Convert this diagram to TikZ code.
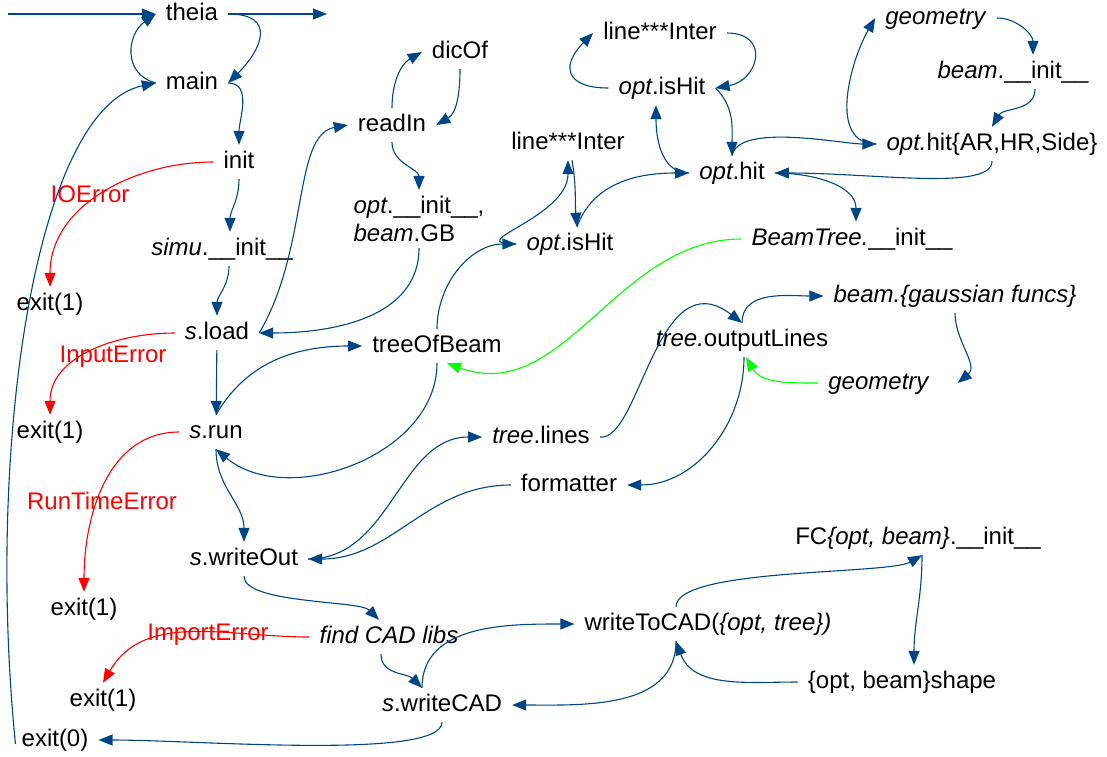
\documentclass[tikz,border=0pt]{standalone}
\usepackage{fontspec}
\setmainfont{Liberation Sans}
\usepackage{xcolor}
\usepackage{tikz}
\usetikzlibrary{arrows.meta}
\definecolor{lobblue}{HTML}{004586}

\begin{document}
\begin{tikzpicture}[x=1pt, y=-1pt,
    every node/.style={font=\fontsize{24}{28}\selectfont, inner xsep=10pt, inner ysep=6pt, text height=17pt, text depth=5pt},
    flow/.style={-{Triangle[length=14pt,width=11pt]}, color=lobblue, line width=1.1pt},
    errflow/.style={flow, color=red},
    treeflow/.style={flow, color=green},
    errtext/.style={text=red}]
      \useasboundingbox (0,0) rectangle (1107,756);
      \coordinate (start) at (8,14);
      \coordinate (away) at (327,14);
      \node (theia) at (192,14) {theia};
      \node (main) at (192,83) {main};
      \node (init) at (239,162) {init};
      \node (simuinit) at (222,249) {\textit{simu}.\_\_init\_\_};
      \node (exitio) at (50,304) {exit(1)};
      \node (sload) at (217,333) {\textit{s}.load};
      \node (exitinput) at (50,432) {exit(1)};
      \node (srun) at (216,432) {\textit{s}.run};
      \node (swriteout) at (244,559) {\textit{s}.writeOut};
      \node (exitrun) at (84,609) {exit(1)};
      \node (findcad) at (389,637) {\textit{find CAD libs}};
      \node (exitimport) at (103,700) {exit(1)};
      \node (swritecad) at (442,705) {\textit{s}.writeCAD};
      \node (exitok) at (55,740) {exit(0)};
      \node (readin) at (392,125) {readIn};
      \node (dicof) at (460,52) {dicOf};
      \node[align=left, text height={}, text depth={}] (optinit) at (419,219) {\textit{opt}.\_\_init\_\_,\\\textit{beam}.GB};
      \node (treeofbeam) at (437,346) {treeOfBeam};
      \node (interA) at (660,33) {line***Inter};
      \node (ishitA) at (662,88) {\textit{opt}.isHit};
      \node (interB) at (568,143) {line***Inter};
      \node (ishitB) at (570,244) {\textit{opt}.isHit};
      \node (opthit) at (732,173) {\textit{opt}.hit};
      \node (geomA) at (936,18) {\textit{geometry}};
      \node (beaminit) at (1013,72) {\textit{beam}.\_\_init\_\_};
      \node (hitars) at (992,144) {\textit{opt.}hit\{AR,HR,Side\}};
      \node (beamtree) at (852,239) {\textit{BeamTree.}\_\_init\_\_};
      \node (gauss) at (955,296) {\textit{beam.\{gaussian funcs\}}};
      \node (outlines) at (742,340) {\textit{tree.}outputLines};
      \node (geomB) at (879,383) {\textit{geometry}};
      \node (treelines) at (541,437) {\textit{tree}.lines};
      \node (formatter) at (569,485) {formatter};
      \node (fcinit) at (918,538) {FC\textit{\{opt, beam\}}.\_\_init\_\_};
      \node (writecad) at (708,624) {writeToCAD(\textit{\{opt, tree\})}};
      \node (shape) at (902,682) {\{opt, beam\}shape};
      \node[errtext] (ioerr) at (90,196) {IOError};
      \node[errtext] (inputerr) at (113,356) {InputError};
      \node[errtext] (runerr) at (102,503) {RunTimeError};
      \node[errtext] (importerr) at (208,634) {ImportError};
      \draw[flow] (start) -- (theia);
      \draw[flow] (theia) -- (away);
      \draw[flow] (main.west) to[out=165,in=215,looseness=1.3] (theia.west);
      \draw[flow] (theia.east) to[out=0,in=45,looseness=1.8] (main.east);
      \draw[flow] (main.east) to[out=0,in=90] (init.north);
      \draw[flow] ([xshift=4pt,yshift=-4pt]exitok.west) .. controls +(-30,-300) and +(-120,25) .. (main.west);
      \draw[flow] (init.south) to[out=-90,in=90] ([xshift=8pt]simuinit.north);
      \draw[errflow] (init.west) to[out=180,in=90] (exitio.north);
      \draw[flow] ([xshift=7pt]simuinit.south) to[out=-90,in=90] (sload.north);
      \draw[flow] (sload.east) .. controls +(50,-85) and +(-55,10) .. (readin.west);
      \draw[flow] (readin.north) to[out=90,in=210] (dicof.west);
      \draw[flow] (dicof.south) to[out=-90,in=30] (readin.east);
      \draw[flow] (readin.south) to[out=-90,in=90] (optinit.north);
      \draw[flow] (optinit.south) to[out=-90,in=0] (sload.east);
      \draw[flow] (sload) -- (srun);
      \draw[errflow] (sload.west) to[out=180,in=90] (exitinput.north);
      \draw[flow] (srun.north) to[out=60,in=180] (treeofbeam.west);
      \draw[flow] (treeofbeam.south) to[out=-90,in=-40] (srun.south);
      \draw[flow] (treeofbeam.north) to[out=90,in=180] (ishitB.west);
      \draw[flow] (ishitB.west) to[out=180,in=-90,looseness=1.5] (interB.south);
      \draw[flow] ([xshift=4pt]interB.south) to[out=-80,in=95] ([xshift=7pt]ishitB.north);
      \draw[flow] ([xshift=7pt]ishitB.north) to[out=70,in=180] (opthit.west);
      \draw[flow] (ishitA.west) to[out=180,in=225,looseness=2] (interA.west);
      \draw[flow] (interA.east) to[out=0,in=10,looseness=2] (ishitA.east);
      \draw[flow] (ishitA.east) to[out=-45,in=90] (opthit.north);
      \draw[flow] (opthit.west) to[out=180,in=-90] ([xshift=-6pt]ishitA.south);
      \draw[flow] (opthit.north) to[out=80,in=180,looseness=0.6] (hitars.west);
      \draw[flow] (hitars.west) to[out=180,in=240] (geomA.west);
      \draw[flow] (geomA.east) to[out=0,in=90] ([xshift=20pt]beaminit.north);
      \draw[flow] ([xshift=22pt]beaminit.south) to[out=-90,in=60] (hitars.north);
      \draw[flow] (hitars.south) .. controls +(0,30) and +(100,0) .. (opthit.east);
      \draw[flow] (opthit.east) to[out=0,in=90] ([xshift=4pt]beamtree.north);
      \draw[treeflow] (beamtree.west) to[out=180,in=-20] ([xshift=10pt]treeofbeam.south);
      \draw[flow] (srun.south) to[out=-90,in=90] (swriteout.north);
      \draw[errflow] (srun.west) to[out=180,in=90] (exitrun.north);
      \draw[flow] (swriteout.east) to[out=0,in=180] (treelines.west);
      \draw[flow] (formatter.west) to[out=180,in=0] (swriteout.east);
      \draw[flow] (treelines.east) .. controls +(40,5) and +(-85,-65) .. (outlines.north);
      \draw[flow] (outlines.north) to[out=90,in=180] (gauss.west);
      \draw[flow] (gauss.south) to[out=-90,in=40] ([xshift=18pt]geomB.east);
      \draw[treeflow] (geomB.west) to[out=180,in=-60] ([xshift=4pt]outlines.south);
      \draw[flow] ([xshift=2pt]outlines.south) to[out=-90,in=0] (formatter.east);
      \draw[flow] (swriteout.south) to[out=-90,in=135,looseness=0.5] ([xshift=-10pt]findcad.north);
      \draw[errflow] (findcad.west) to[out=180,in=60] (exitimport.north);
      \draw[flow] ([xshift=-8pt]findcad.south) to[out=-90,in=135] ([xshift=-20pt]swritecad.north);
      \draw[flow] ([xshift=-20pt]swritecad.north) to[out=90,in=180] (writecad.west);
      \draw[flow] ([xshift=-32pt]writecad.south) to[out=-90,in=0] (swritecad.east);
      \draw[flow] ([xshift=-32pt]writecad.north) to[out=90,in=210,looseness=0.4] ([xshift=4pt]fcinit.south);
      \draw[flow] ([xshift=4pt]fcinit.south) to[out=-90,in=90] ([xshift=12pt]shape.north);
      \draw[flow] (shape.west) to[out=180,in=-70] ([xshift=-32pt]writecad.south);
      \draw[flow] (swritecad.south) .. controls +(0,38) and +(100,0) .. (exitok.east);
    \end{tikzpicture}
\end{document}
